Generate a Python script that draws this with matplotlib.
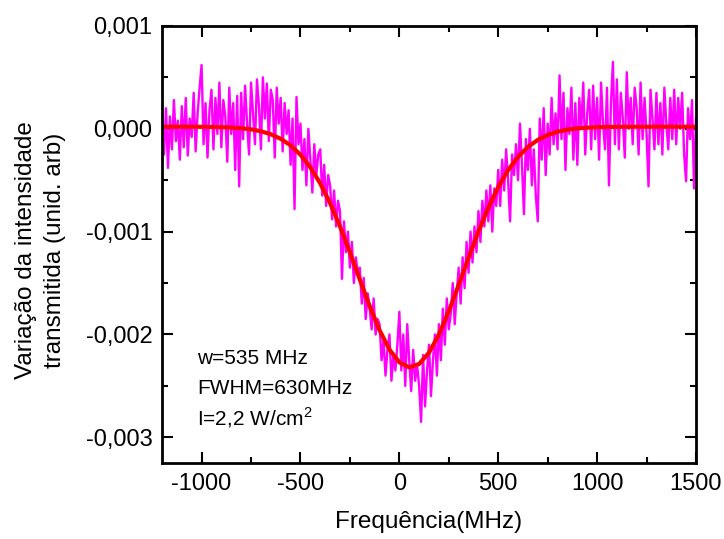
import numpy as np
import matplotlib
matplotlib.use('Agg')
import matplotlib.pyplot as plt
from matplotlib.ticker import MultipleLocator, FuncFormatter

plt.rcParams['font.family'] = ['Liberation Sans', 'DejaVu Sans']
plt.rcParams['axes.unicode_minus'] = False
plt.rcParams['mathtext.fontset'] = 'custom'
plt.rcParams['mathtext.rm'] = 'Liberation Sans'

# sinal medido: passo de 10 MHz a partir de -1200 MHz, valores em 1e-5
freq_start = -1200
freq_step = 10
signal_1e5 = [
    5, -25, 20, -38, 12, -20, 28, -12, 8, -30,          # -1200
    22, -18, 30, -26, 10, -8, 35, -22, 15, 40,          # -1100
    62, -15, 25, -28, 18, 38, -20, 30, -5, 45,          # -1000
    -18, 28, 12, -32, 40, -5, 25, -40, 32, -56,         # -900
    35, -10, 42, 5, -25, 45, 15, -15, 48, 22,           # -800
    -20, 50, 10, 44, -12, 38, 28, -28, 40, 5,           # -700
    30, -22, 25, -5, 18, -35, 10, -78, 31, -15,         # -600
    5, -40, -10, -55, 0, -30, -62, -15, -45, -25,       # -500
    -20, -65, -35, -75, -45, -55, -88, -60, -95, -70,   # -400
    -80, -146, -90, -120, -100, -135, -110, -150, -125, -140,  # -300
    -135, -170, -145, -185, -160, -175, -195, -165, -200, -185,  # -200
    -190, -225, -205, -240, -215, -200, -245, -220, -235, -210,  # -100
    -178, -235, -200, -250, -190, -225, -255, -215, -245, -230,  # 0
    -250, -285, -220, -270, -235, -210, -260, -225, -200, -240,  # 100
    -190, -225, -175, -210, -165, -195, -180, -150, -190, -160,  # 200
    -135, -170, -125, -155, -110, -140, -100, -130, -95, -120,   # 300
    -80, -110, -70, -95, -60, -90, -55, -100, -58, -75,          # 400
    -40, -75, -30, -60, -20, -50, -90, -25, -45, -15,   # 500
    -50, 5, -35, -83, -10, -40, 0, -55, -20, -65,       # 600
    -90, 10, -30, 20, -45, 5, -25, 30, -15, 15,         # 700
    -20, 52, -10, 35, -40, 20, -5, 40, -30, 25,         # 800
    -35, 30, 0, 45, -25, 15, 38, -20, 42, -10,          # 900
    30, -30, 45, 5, -20, 40, -55, 25, 65, -15,          # 1000
    48, -20, 35, 10, -28, 55, 0, 30, -15, 40,           # 1100
    20, -25, 45, -10, 30, -5, -56, 38, 10, -20,         # 1200
    35, -15, 25, -25, 40, 5, -20, 30, -10, 38,          # 1300
    -15, 30, 0, 35, -25, -51, 20, -10, 28, -58,         # 1400
    10,                                                 # 1500
]

# ajuste gaussiano (w=535 MHz), lido a cada 50 MHz, em 1e-5
fit_freq = list(range(-1200, 1501, 50))
fit_1e5 = [
    2, 2, 2, 2, 1.9, 1.8, 1.6, 1.2, 0.6, -0.5,
    -2.4, -5.3, -9.7, -16.1, -25.2, -37.4, -53.1, -72.4, -95.0, -120.1,
    -146.6, -172.4, -195.8, -214.7, -227.1, -232.0, -228.7, -217.7, -200.0, -177.4,
    -151.9, -125.4, -99.9, -76.7, -56.7, -40.2, -27.4, -17.7, -10.8, -6.0,
    -2.8, -0.8, 0.4, 1.1, 1.6, 1.8, 1.9, 2, 2, 2,
    2, 2, 2, 2, 2,
]

annot_lines = ['w=535 MHz', 'FWHM=630MHz', r'I=2,2 W/cm$^\mathregular{2}$']

signal = np.array(signal_1e5) * 1e-5
freq = freq_start + freq_step * np.arange(len(signal))
fit = np.array(fit_1e5) * 1e-5

fig = plt.figure(figsize=(7.24, 5.39), dpi=100)
ax = fig.add_axes([0.2238, 0.141, 0.7375, 0.8108])

ax.plot(freq, signal, color='#FF00FF', lw=1.7)
ax.plot(fit_freq, fit, color='#FF0000', lw=3.0)

ax.set_xlim(-1200, 1500)
ax.set_ylim(-0.00325, 0.001)

ax.xaxis.set_major_locator(MultipleLocator(500))
ax.xaxis.set_minor_locator(MultipleLocator(250))
ax.yaxis.set_major_locator(MultipleLocator(0.001))
ax.yaxis.set_minor_locator(MultipleLocator(0.0005))


def virgula(v, pos):
    if abs(v) < 1e-9:
        v = 0.0
    return f'{v:.3f}'.replace('.', ',')


ax.yaxis.set_major_formatter(FuncFormatter(virgula))

ax.tick_params(which='both', direction='in', top=True, right=True, width=1.5)
ax.tick_params(which='major', length=8, labelsize=17, pad=7)
ax.tick_params(which='minor', length=4.5)
for s in ax.spines.values():
    s.set_linewidth(2)

ax.set_xlabel('Frequência(MHz)', fontsize=17.5)
ax.xaxis.set_label_coords(0.5, -0.11)
fig.text(0.056, 0.536, 'Variação da intensidade\ntransmitida (unid. arb)',
         rotation=90, ha='center', va='center', multialignment='center',
         fontsize=17.5, linespacing=1.4)

for i, t in enumerate(annot_lines):
    ax.text(0.0655, 0.240 - i * 0.0685, t, transform=ax.transAxes,
            fontsize=15, ha='left', va='center')

fig.savefig('out.png', dpi=100)
